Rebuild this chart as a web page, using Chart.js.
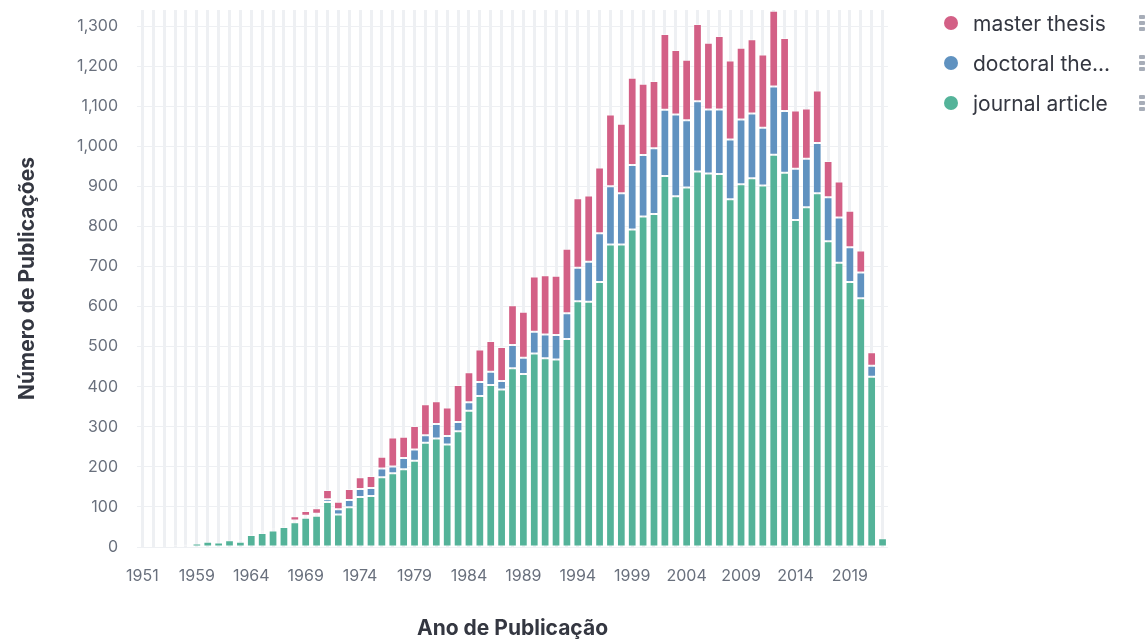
<!DOCTYPE html>
<html>
<head>
<meta charset="utf-8">
<title>Ano de Publicação</title>
<script src="https://cdn.jsdelivr.net/npm/chart.js@4.4.1/dist/chart.umd.min.js"></script>
<style>
  html, body { margin: 0; padding: 0; background: #fff; }
  #wrap { position: relative; width: 1148px; height: 641px; }
  #legend { position: absolute; left: 944px; top: 3px; width: 204px; font-family: Inter, "Noto Sans", sans-serif; }
  .item { position: relative; display: flex; align-items: center; height: 40px; font-size: 21px; color: #343741; }
  .dot { width: 14px; height: 14px; border-radius: 50%; margin-right: 15px; flex: none; }
  .grip { position: absolute; left: 195px; top: 12px; width: 6px; }
  .grip i { display: block; width: 6px; height: 4px; margin-bottom: 2px; background: #a7adb8; border-radius: 1px; }
</style>
</head>
<body>
<div id="wrap">
  <canvas id="pubChart" width="1148" height="641"></canvas>
  <div id="legend"></div>
</div>
<script>
// ====== DADOS ======
const years = ["1951","1953","1955","1957","1958","1959","1960","1961","1962","1963",
  "1964","1965","1966","1967","1968","1969","1970","1971","1972","1973",
  "1974","1975","1976","1977","1978","1979","1980","1981","1982","1983",
  "1984","1985","1986","1987","1988","1989","1990","1991","1992","1993",
  "1994","1995","1996","1997","1998","1999","2000","2001","2002","2003",
  "2004","2005","2006","2007","2008","2009","2010","2011","2012","2013",
  "2014","2015","2016","2017","2018","2019","2020","2021","2022"];

const journalArticle = [1,2,4,5,6,9,13,11,17,13,
  30,35,41,50,62,73,78,112,81,99,
  125,127,174,184,194,215,260,271,256,289,
  340,377,404,393,446,432,483,471,468,519,
  613,612,661,755,755,792,825,831,926,875,
  897,937,932,931,868,905,920,902,979,934,
  816,848,883,763,709,661,621,425,22];

const doctoralThesis = [0,0,0,0,0,0,0,2,0,1,
  0,2,2,2,4,5,5,7,13,18,
  20,20,22,17,28,28,19,36,21,23,
  21,35,33,21,58,40,54,59,61,64,
  84,100,122,145,128,161,153,164,165,204,
  168,175,160,161,149,162,162,144,170,154,
  128,121,125,110,113,87,64,27,0];

const masterThesis = [0,0,0,0,2,0,0,0,0,5,
  2,5,4,3,11,12,14,23,19,28,
  29,30,29,72,53,59,77,57,71,92,
  75,81,77,85,99,115,138,148,148,161,
  173,165,164,179,173,218,178,168,189,161,
  151,193,166,183,197,179,185,183,189,182,
  145,125,131,90,90,91,55,34,0];

const seriesNames = ["journal article", "doctoral thesis", "master thesis"];
const seriesColors = ["#54b399", "#6092c0", "#d36086"];
const legendLabels = ["master thesis", "doctoral the...", "journal article"];

// ====== GRAFICO ======
const ctx = document.getElementById("pubChart").getContext("2d");
const tickColor = "#69707d";
const gridColor = "#eef0f3";

const datasets = [journalArticle, doctoralThesis, masterThesis].map((d, i) => ({
  label: seriesNames[i],
  data: d,
  backgroundColor: seriesColors[i],
  borderColor: "rgba(255,255,255,0.4)",
  borderWidth: 1,
  borderSkipped: false,
  barPercentage: 0.8,
  categoryPercentage: 1
}));

new Chart(ctx, {
  type: "bar",
  data: { labels: years, datasets: datasets },
  options: {
    responsive: false,
    animation: false,
    locale: "en-US",
    layout: { padding: { left: 0, top: 10, right: 260, bottom: 0 } },
    plugins: {
      legend: { display: false },
      tooltip: { enabled: false }
    },
    scales: {
      x: {
        stacked: true,
        grid: { offset: false, color: gridColor, lineWidth: 3, drawTicks: false },
        border: { display: false },
        ticks: {
          autoSkip: false,
          maxRotation: 0,
          padding: 20,
          color: tickColor,
          font: { family: "Inter", size: 16 },
          callback: function (v, i) { return i % 5 === 0 ? this.getLabelForValue(v) : ""; }
        },
        title: {
          display: true,
          text: "Ano de Publicação",
          color: "#343741",
          font: { family: "Inter", size: 21, weight: "bold" },
          padding: { top: 0, bottom: 0 }
        },
        afterFit: (s) => { s.height = 94; s.paddingLeft = 0; s.paddingRight = 0; }
      },
      y: {
        stacked: true,
        min: 0,
        max: 1340,
        grid: { color: gridColor, lineWidth: 1, drawTicks: false },
        border: { display: false },
        ticks: {
          stepSize: 100,
          includeBounds: false,
          padding: 19,
          color: tickColor,
          font: { family: "Inter", size: 16 }
        },
        title: {
          display: true,
          text: "Número de Publicações",
          color: "#343741",
          font: { family: "Inter", size: 21, weight: "bold" },
          padding: { top: 15, bottom: 0 }
        },
        afterFit: (s) => { s.width = 137; s.paddingTop = 0; s.paddingBottom = 0; }
      }
    }
  }
});

// ====== LEGENDA ======
const legendEl = document.getElementById("legend");
const legendColors = [seriesColors[2], seriesColors[1], seriesColors[0]];
legendLabels.forEach((txt, i) => {
  const item = document.createElement("div");
  item.className = "item";
  item.innerHTML = '<span class="dot" style="background:' + legendColors[i] + '"></span>' +
    '<span>' + txt + '</span><span class="grip"><i></i><i></i><i></i></span>';
  legendEl.appendChild(item);
});
</script>
</body>
</html>
